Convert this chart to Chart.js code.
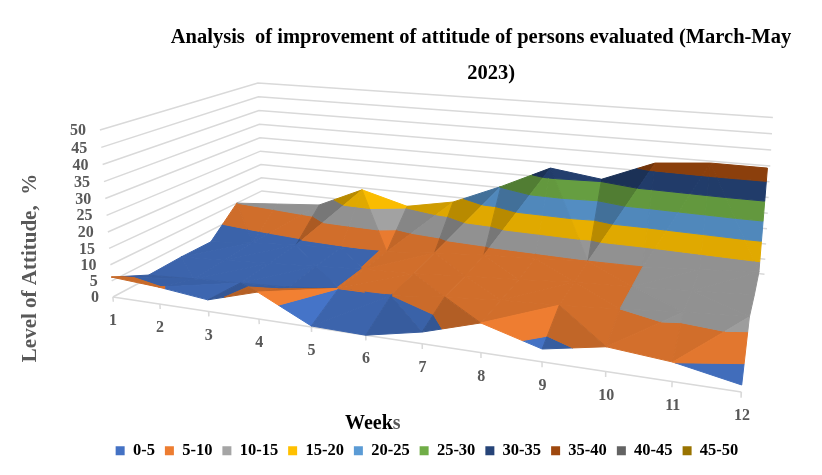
<!DOCTYPE html>
<html>
<head>
<meta charset="utf-8">
<style>
  html, body { margin: 0; padding: 0; background: #fff; }
  #wrap { width: 822px; height: 475px; }
</style>
<script src="https://cdn.jsdelivr.net/npm/chart.js@4"></script>
</head>
<body>
<div id="wrap"><canvas id="surfaceChart" width="822" height="475"></canvas></div>
<script>
// values, one list per depth row (front row first)
const weeks = ['1', '2', '3', '4', '5', '6', '7', '8', '9', '10', '11', '12'];
const row1 = [6.2, 5.2, 3.5, 8.0, 0.3, 0.0, 3.3, 8.2, 3.5, 6.6, 5.1, 1.8];
const row2 = [0.9, 1.7, 2.5, 3.3, 5.05, 4.95, 6.8, 8.0, 8.8, 10.0, 11.4, 12.4];
const row3 = [1.2, 2.0, 3.0, 4.0, 5.05, 5.6, 7.0, 8.0, 9.2, 10.0, 11.0, 12.0];
const row4 = [1.0, 2.5, 3.6, 4.5, 5.1, 6.6, 7.9, 8.8, 9.8, 10.0, 11.2, 12.5];
const row5 = [10.0, 11.3, 12.6, 19.5, 15.4, 18.5, 25.2, 32.7, 30.6, 37.1, 38.5, 38.4];
const rows = [row1, row2, row3, row4, row5];

const bandLabels = ['0-5', '5-10', '10-15', '15-20', '20-25', '25-30', '30-35', '35-40', '40-45', '45-50'];
const bandColors = ['#4472C4', '#ED7D31', '#A5A5A5', '#FFC000', '#5B9BD5', '#70AD47', '#264478', '#9E480E', '#636363', '#997300'];
const levelTicks = [0, 5, 10, 15, 20, 25, 30, 35, 40, 45, 50];

const GRID = '#d9d9d9';
const TICK_TEXT = '#595959';
const SERIF = '"Liberation Serif", serif';

// perspective of the 3D box: week index, depth row and level to page pixels
function project(k, r, level) {
    const u = k / 11, v = r / 5, z = level / 50;
    const w = 1 - 0.1925 * u + 0.2615 * v - 0.043 * z;
    return {
        x: (113 + 486.2 * u + 218.8 * v - 17.3 * z - 7 * z * u) / w,
        y: (297 + 19.5 * u - 23.25 * v - 172.6 * z) / w
    };
}

function lineSet(points, color, width) {
    return { data: points, borderColor: color, borderWidth: width, showLine: true, pointRadius: 0, fill: false, clip: false };
}

// clip a triangle (list of {k, r, l}) to one side of a level
function clipLevel(poly, level, keepAbove) {
    const out = [];
    poly.forEach((a, i) => {
        const b = poly[(i + 1) % poly.length];
        const aIn = keepAbove ? a.l >= level : a.l <= level;
        const bIn = keepAbove ? b.l >= level : b.l <= level;
        if (aIn) out.push(a);
        if (aIn !== bIn) {
            const t = (level - a.l) / (b.l - a.l);
            out.push({ k: a.k + (b.k - a.k) * t, r: a.r + (b.r - a.r) * t, l: level });
        }
    });
    return out;
}

function shadeColor(hex, f) {
    const n = parseInt(hex.slice(1), 16);
    const c = [n >> 16, (n >> 8) & 255, n & 255].map(x => Math.min(255, Math.round(x * f)));
    return `rgb(${c[0]},${c[1]},${c[2]})`;
}

// gentle parts all get one colour, slopes falling to the right are bright, rising ones dark
function triangleShade(t) {
    const [a, b, c] = t;
    const d1 = { k: b.k - a.k, r: b.r - a.r, l: b.l - a.l };
    const d2 = { k: c.k - a.k, r: c.r - a.r, l: c.l - a.l };
    const det = d1.k * d2.r - d1.r * d2.k;
    const dLk = (d1.l * d2.r - d1.r * d2.l) / det;
    const dLr = (d1.k * d2.l - d1.l * d2.k) / det;
    const side = Math.sign(dLk) * Math.max(Math.abs(dLk) - 1.2, 0);
    const s = 0.88 - 0.035 * side + 0.015 * Math.min(dLr + 1.2, 0);
    return Math.max(0.72, Math.min(1.02, s));
}

function triangleSets(t) {
    const sets = [];
    const f = triangleShade(t);
    bandColors.forEach((color, b) => {
        const low = clipLevel(t, b * 5, true);
        if (low.length < 3) return;
        const poly = clipLevel(low, (b + 1) * 5, false);
        if (poly.length < 3) return;
        const pts = poly.map(p => project(p.k, p.r, p.l));
        pts.push(pts[0]);
        const col = shadeColor(color, f);
        sets.push({
            data: pts, showLine: true, pointRadius: 0, tension: 0, clip: false,
            fill: 'shape', backgroundColor: col, borderColor: col, borderWidth: 1
        });
    });
    return sets;
}

// surface, painted from the back row to the front row
function surfaceSets() {
    let sets = [];
    for (let r = rows.length - 2; r >= 0; r--) {
        for (let k = 0; k < weeks.length - 1; k++) {
            const fl = { k: k, r: r, l: rows[r][k] };
            const fr = { k: k + 1, r: r, l: rows[r][k + 1] };
            const bl = { k: k, r: r + 1, l: rows[r + 1][k] };
            const br = { k: k + 1, r: r + 1, l: rows[r + 1][k + 1] };
            // cell is folded along its higher diagonal
            const tris = bl.l + fr.l >= fl.l + br.l
                ? [[bl, br, fr], [bl, fr, fl]]
                : [[fl, bl, br], [fl, br, fr]];
            tris.forEach(t => { sets = sets.concat(triangleSets(t)); });
        }
    }
    return sets;
}

function gridSets() {
    const sets = [];
    levelTicks.forEach(l => {
        sets.push(lineSet([project(0, 0, l), project(0, 5, l), project(11, 5, l)], GRID, 1.5));
    });
    sets.push(lineSet([project(0, 0, 0), project(11, 0, 0)], GRID, 1.5));
    weeks.forEach((_, k) => {
        sets.push(lineSet([project(k, 0, 0), project(k, 0, -1.5)], GRID, 1.5));
    });
    return sets;
}

const boxText = {
    id: 'boxText',
    afterLayout(chart) {
        // title sits right of the page centre in the reference
        chart.titleBlock.left = 140;
        chart.titleBlock.right = 822;
    },
    afterDraw(chart) {
        const ctx = chart.ctx;
        ctx.save();
        ctx.fillStyle = TICK_TEXT;
        ctx.font = `bold 16px ${SERIF}`;
        ctx.textBaseline = 'middle';
        ctx.textAlign = 'right';
        levelTicks.forEach(l => {
            ctx.fillText(String(l), 99 - 13 * l / 50, project(0, 0, l).y + 1);
        });
        ctx.textAlign = 'center';
        weeks.forEach((w, k) => {
            const p = project(k, 0, 0);
            ctx.fillText(w, p.x, p.y + 24);
        });

        // last letter of the axis title is grey in the reference
        ctx.font = `bold 20px ${SERIF}`;
        ctx.textAlign = 'left';
        ctx.fillStyle = '#000';
        ctx.fillText('Week', 345, 424);
        const weekWidth = ctx.measureText('Week').width;
        ctx.fillStyle = TICK_TEXT;
        ctx.fillText('s', 345 + weekWidth, 424);

        ctx.textAlign = 'center';
        ctx.translate(31, 268);
        ctx.rotate(-Math.PI / 2);
        ctx.font = `bold 21px ${SERIF}`;
        ctx.fillText('Level of Attitude,  %', 0, 0);
        ctx.restore();
    }
};

const chart = new Chart(document.getElementById('surfaceChart'), {
    type: 'scatter',
    data: { datasets: gridSets().concat(surfaceSets()).map((d, i, all) => Object.assign(d, { order: all.length - i })) },
    options: {
        responsive: false,
        animation: false,
        layout: { padding: { left: 32, bottom: 6 } },
        scales: {
            x: { type: 'linear', display: false, min: 0, max: 822 },
            y: { type: 'linear', display: false, reverse: true, min: 0, max: 475 }
        },
        plugins: {
            tooltip: { enabled: false },
            title: {
                display: true,
                text: ['Analysis  of improvement of attitude of persons evaluated (March-May', '    2023)'],
                color: '#000',
                font: { family: SERIF, size: 20.5, weight: 'bold', lineHeight: 1.76 },
                padding: { top: 20, bottom: 0 }
            },
            legend: {
                position: 'bottom',
                labels: {
                    boxWidth: 9,
                    boxHeight: 9,
                    padding: 10,
                    color: TICK_TEXT,
                    font: { family: SERIF, size: 16.5, weight: 'bold' },
                    generateLabels: () => bandLabels.map((text, i) => ({
                        text: text, fillStyle: bandColors[i], strokeStyle: bandColors[i], lineWidth: 0, hidden: false, datasetIndex: i
                    }))
                }
            }
        }
    },
    plugins: [boxText]
});

// title and legend take room from the chart area, so map the scales to it: one unit stays one page pixel
chart.options.scales.x.min = chart.chartArea.left;
chart.options.scales.x.max = chart.chartArea.right;
chart.options.scales.y.min = chart.chartArea.top;
chart.options.scales.y.max = chart.chartArea.bottom;
chart.update('none');
</script>
</body>
</html>
